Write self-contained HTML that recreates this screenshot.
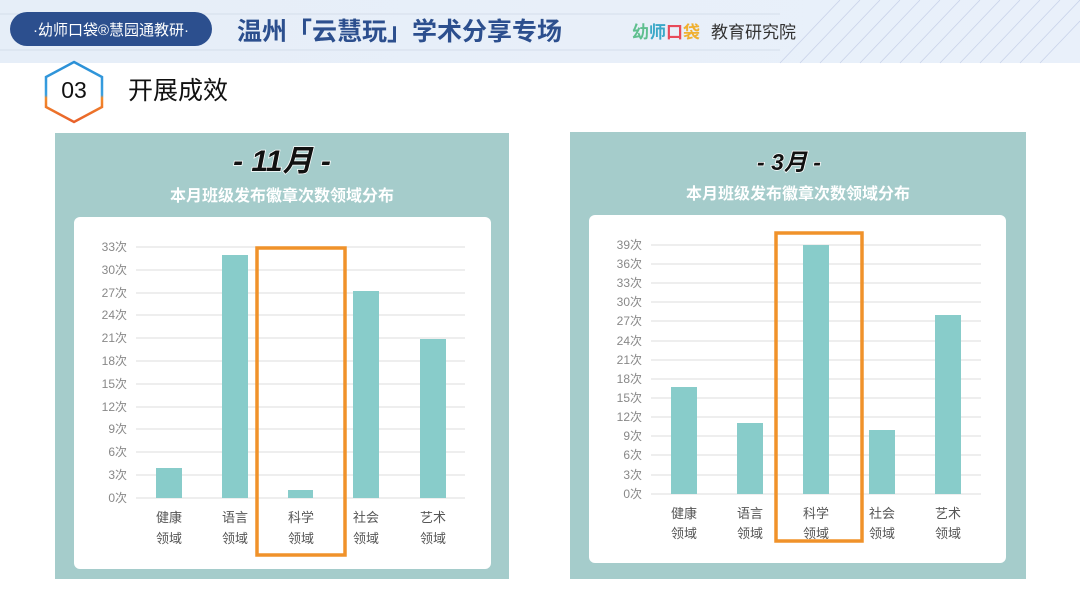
<!DOCTYPE html>
<html><head><meta charset="utf-8"><style>
body{margin:0;width:1080px;height:608px;overflow:hidden;background:#fff;font-family:"Liberation Sans","Noto Sans CJK SC",sans-serif}
</style></head><body>
<svg width="1080" height="608" viewBox="0 0 1080 608" xmlns="http://www.w3.org/2000/svg" font-family="Liberation Sans, Noto Sans CJK SC, sans-serif">
<defs>
<linearGradient id="hd" x1="0" x2="1"><stop offset="0" stop-color="#e6eef8"/><stop offset="1" stop-color="#e9f0fa"/></linearGradient>
<linearGradient id="hx" x1="0" y1="0" x2="0" y2="1"><stop offset="0" stop-color="#2a8fd6"/><stop offset="0.55" stop-color="#3aa0e0"/><stop offset="0.6" stop-color="#f28a2a"/><stop offset="1" stop-color="#e8602a"/></linearGradient>
</defs>
<rect x="0" y="0" width="1080" height="63" fill="url(#hd)"/>
<g stroke="#d4deea" stroke-width="1">
<line x1="0" y1="14" x2="780" y2="14"/><line x1="0" y1="50" x2="780" y2="50"/>
</g>
<g stroke="#c9d3ea" stroke-width="0.8">
<line x1="780" y1="63" x2="840" y2="0"/><line x1="800" y1="63" x2="860" y2="0"/><line x1="820" y1="63" x2="880" y2="0"/><line x1="840" y1="63" x2="900" y2="0"/><line x1="860" y1="63" x2="920" y2="0"/><line x1="880" y1="63" x2="940" y2="0"/><line x1="900" y1="63" x2="960" y2="0"/><line x1="920" y1="63" x2="980" y2="0"/><line x1="940" y1="63" x2="1000" y2="0"/><line x1="960" y1="63" x2="1020" y2="0"/><line x1="980" y1="63" x2="1040" y2="0"/><line x1="1000" y1="63" x2="1060" y2="0"/><line x1="1020" y1="63" x2="1080" y2="0"/><line x1="1040" y1="63" x2="1080" y2="21"/>
</g>
<rect x="10" y="12" width="202" height="34" rx="17" fill="#2c4f8e"/>
<text x="111" y="35" font-size="15" fill="#fff" text-anchor="middle">·幼师口袋®慧园通教研·</text>
<text x="237" y="40" font-size="25" font-weight="bold" fill="#2c4f8e">温州「云慧玩」学术分享专场</text>
<text x="632" y="38" font-size="17" font-weight="bold" fill="#5fbf8f">幼<tspan fill="#3aa8c8">师</tspan><tspan fill="#e84a5a">口</tspan><tspan fill="#f0b030">袋</tspan></text>
<text x="711" y="38" font-size="17" fill="#333">教育研究院</text>
<polygon points="74,62 102,77 102,107 74,122 46,107 46,77" fill="none" stroke="url(#hx)" stroke-width="2.5"/>
<text x="74" y="98" font-size="23" fill="#111" text-anchor="middle">03</text>
<text x="128" y="99" font-size="25" fill="#111">开展成效</text>

<!-- left panel -->
<rect x="55" y="133" width="454" height="446" fill="#a5cccb"/>
<text x="282" y="171" font-size="30" font-weight="bold" font-style="italic" fill="#111" stroke="#fff" stroke-width="1.5" paint-order="stroke" text-anchor="middle">- 11月 -</text>
<text x="282" y="201" font-size="16" font-weight="bold" fill="#fff" text-anchor="middle">本月班级发布徽章次数领域分布</text>
<rect x="74" y="217" width="417" height="352" rx="6" fill="#fff"/>
<g stroke="#e3e3e3" stroke-width="1.3">
<line x1="136" x2="465" y1="247" y2="247"/><line x1="136" x2="465" y1="270" y2="270"/><line x1="136" x2="465" y1="293" y2="293"/><line x1="136" x2="465" y1="315" y2="315"/><line x1="136" x2="465" y1="338" y2="338"/><line x1="136" x2="465" y1="361" y2="361"/><line x1="136" x2="465" y1="384" y2="384"/><line x1="136" x2="465" y1="407" y2="407"/><line x1="136" x2="465" y1="429" y2="429"/><line x1="136" x2="465" y1="452" y2="452"/><line x1="136" x2="465" y1="475" y2="475"/><line x1="136" x2="465" y1="498" y2="498"/>
</g>
<g font-size="12" fill="#888" text-anchor="end">
<text x="127" y="251">33次</text><text x="127" y="274">30次</text><text x="127" y="297">27次</text><text x="127" y="319">24次</text><text x="127" y="342">21次</text><text x="127" y="365">18次</text><text x="127" y="388">15次</text><text x="127" y="411">12次</text><text x="127" y="433">9次</text><text x="127" y="456">6次</text><text x="127" y="479">3次</text><text x="127" y="502">0次</text>
</g>
<g fill="#88ccca">
<rect x="156" y="468" width="26" height="30"/><rect x="222" y="255" width="26" height="243"/><rect x="288" y="490" width="25" height="8"/><rect x="353" y="291" width="26" height="207"/><rect x="420" y="339" width="26" height="159"/>
</g>
<g font-size="13" fill="#555" text-anchor="middle">
<text x="169" y="522">健康</text><text x="169" y="543">领域</text>
<text x="235" y="522">语言</text><text x="235" y="543">领域</text>
<text x="301" y="522">科学</text><text x="301" y="543">领域</text>
<text x="366" y="522">社会</text><text x="366" y="543">领域</text>
<text x="433" y="522">艺术</text><text x="433" y="543">领域</text>
</g>
<rect x="257" y="248" width="88" height="307" fill="none" stroke="#f0922a" stroke-width="3.5"/>

<!-- right panel -->
<rect x="570" y="132" width="456" height="447" fill="#a5cccb"/>
<text x="789" y="170" font-size="23" font-weight="bold" font-style="italic" fill="#111" stroke="#fff" stroke-width="1.5" paint-order="stroke" text-anchor="middle">- 3月 -</text>
<text x="798" y="199" font-size="16" font-weight="bold" fill="#fff" text-anchor="middle">本月班级发布徽章次数领域分布</text>
<rect x="589" y="215" width="417" height="348" rx="6" fill="#fff"/>
<g stroke="#e3e3e3" stroke-width="1.3">
<line x1="651" x2="981" y1="245" y2="245"/><line x1="651" x2="981" y1="264" y2="264"/><line x1="651" x2="981" y1="283" y2="283"/><line x1="651" x2="981" y1="302" y2="302"/><line x1="651" x2="981" y1="321" y2="321"/><line x1="651" x2="981" y1="341" y2="341"/><line x1="651" x2="981" y1="360" y2="360"/><line x1="651" x2="981" y1="379" y2="379"/><line x1="651" x2="981" y1="398" y2="398"/><line x1="651" x2="981" y1="417" y2="417"/><line x1="651" x2="981" y1="436" y2="436"/><line x1="651" x2="981" y1="455" y2="455"/><line x1="651" x2="981" y1="475" y2="475"/><line x1="651" x2="981" y1="494" y2="494"/>
</g>
<g font-size="12" fill="#888" text-anchor="end">
<text x="642" y="249">39次</text><text x="642" y="268">36次</text><text x="642" y="287">33次</text><text x="642" y="306">30次</text><text x="642" y="325">27次</text><text x="642" y="345">24次</text><text x="642" y="364">21次</text><text x="642" y="383">18次</text><text x="642" y="402">15次</text><text x="642" y="421">12次</text><text x="642" y="440">9次</text><text x="642" y="459">6次</text><text x="642" y="479">3次</text><text x="642" y="498">0次</text>
</g>
<g fill="#88ccca">
<rect x="671" y="387" width="26" height="107"/><rect x="737" y="423" width="26" height="71"/><rect x="803" y="245" width="26" height="249"/><rect x="869" y="430" width="26" height="64"/><rect x="935" y="315" width="26" height="179"/>
</g>
<g font-size="13" fill="#555" text-anchor="middle">
<text x="684" y="518">健康</text><text x="684" y="538">领域</text>
<text x="750" y="518">语言</text><text x="750" y="538">领域</text>
<text x="816" y="518">科学</text><text x="816" y="538">领域</text>
<text x="882" y="518">社会</text><text x="882" y="538">领域</text>
<text x="948" y="518">艺术</text><text x="948" y="538">领域</text>
</g>
<rect x="776" y="233" width="86" height="308" fill="none" stroke="#f0922a" stroke-width="3.5"/>
</svg>
</body></html>
